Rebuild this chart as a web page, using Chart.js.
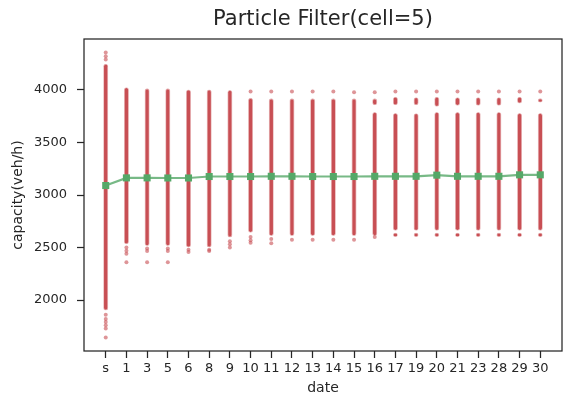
<!DOCTYPE html>
<html><head><meta charset="utf-8">
<script src="https://cdn.jsdelivr.net/npm/chart.js@4/dist/chart.umd.min.js"></script>
<style>html,body{margin:0;padding:0;background:#fff;}#wrap{width:567px;height:405px;}</style>
</head><body><div id="wrap"><canvas id="c" width="567" height="405"></canvas></div>
<script>
// ---- data ----
const categories = ['s','1','3','5','6','8','9','10','11','12','13','14','15','16','17','19','20','21','23','28','29','30'];
const meanCapacity = [3090,3163,3163,3162,3162,3176,3176,3176,3178,3178,3176,3176,3176,3178,3178,3178,3189,3178,3178,3178,3192,3192];
// dense particle band per date
const bandLow  = [1900,2530,2515,2515,2500,2500,2595,2640,2610,2610,2610,2610,2610,2610,2660,2660,2660,2660,2660,2660,2660,2660];
const bandHigh = [4250,4025,4015,4015,4005,4005,4000,3925,3920,3920,3920,3920,3920,3790,3780,3778,3790,3790,3790,3790,3780,3780];
// detached upper cluster (null = none)
const upperLow  = [null,null,null,null,null,null,null,null,null,null,null,null,null,3855,3855,3855,3840,3850,3850,3850,3870,3880];
const upperHigh = [null,null,null,null,null,null,null,null,null,null,null,null,null,3920,3935,3930,3935,3930,3930,3930,3935,3920];
// detached lower cluster (null = none)
const lowerLow  = [null,null,null,null,null,null,null,null,null,null,null,null,null,null,2600,2600,2600,2600,2600,2600,2600,2600];
const lowerHigh = [null,null,null,null,null,null,null,null,null,null,null,null,null,null,2640,2640,2640,2640,2640,2640,2640,2640];
// isolated particles: date index and capacity
const outlierDate  = [0,0,0,0,0,0,0,0,0, 1,1,1,1, 2,2,2, 3,3,3, 4,4, 5,5, 6,6,6, 7,7,7,7, 8,8,8, 9,9, 10,10, 11,11, 12,12, 13,13, 14,15,16,17,18,19,20,21];
const outlierValue = [4357,4320,4290,1860,1820,1790,1760,1730,1643, 2500,2470,2440,2360, 2490,2467,2360, 2490,2467,2360, 2480,2458, 2480,2467, 2560,2530,2500, 3985,2600,2570,2545, 3985,2580,2540, 3985,2575, 3985,2575, 3985,2575, 3978,2575, 3978,2600, 3985,3985,3985,3985,3985,3985,3985,3985];
const yTicks = [2000,2500,3000,3500,4000];

const RED = 'rgb(200,79,84)';
const RED_EDGE = 'rgba(200,79,84,0.45)';
const RED_DOT = 'rgba(200,79,84,0.6)';
const GREEN = '#55A868';
const TXT = '#262626';
const FONT = "'DejaVu Sans', sans-serif";

function bars(lo, hi) {
  const out = [];
  lo.forEach((l, i) => { if (l !== null && hi[i] !== null) out.push({x: i, y: [l, hi[i]]}); });
  return out;
}
const barStyle = {type: 'bar', grouped: false, barThickness: 5, maxBarThickness: 5, backgroundColor: RED,
  borderColor: RED_EDGE, borderWidth: 0.8, borderRadius: 2.5, borderSkipped: false, inflateAmount: 0, order: 1};

const framePlugin = {
  id: 'frame',
  afterDraw(chart) {
    const {ctx, chartArea: a} = chart;
    ctx.save();
    ctx.strokeStyle = '#262626';
    ctx.lineWidth = 1.25;
    ctx.strokeRect(a.left, a.top, a.right - a.left, a.bottom - a.top);
    ctx.restore();
  }
};

new Chart(document.getElementById('c'), {
  type: 'scatter',
  data: {
    datasets: [
      {type: 'line', data: meanCapacity.map((v, i) => ({x: i, y: v})), borderColor: 'rgba(85,168,104,0.8)',
        borderWidth: 2.2, pointStyle: 'rect', pointRadius: 5, pointBackgroundColor: GREEN,
        pointBorderWidth: 0, tension: 0, order: 0},
      Object.assign({data: bars(bandLow, bandHigh)}, barStyle),
      Object.assign({data: bars(upperLow, upperHigh)}, barStyle),
      Object.assign({data: bars(lowerLow, lowerHigh)}, barStyle),
      {type: 'scatter', data: outlierDate.map((d, i) => ({x: d, y: outlierValue[i]})),
        pointRadius: 2, pointBackgroundColor: RED_DOT, pointBorderWidth: 0, order: 2}
    ]
  },
  options: {
    responsive: false, animation: false, devicePixelRatio: 1,
    layout: {padding: {left: 0, right: 2, top: 0, bottom: 0}},
    plugins: {
      legend: {display: false}, tooltip: {enabled: false},
      title: {display: true, text: 'Particle Filter(cell=5)', fullSize: false, color: TXT,
        font: {family: FONT, size: 21, weight: 'normal'}, padding: {top: 7, bottom: 6.8}}
    },
    scales: {
      x: {type: 'linear', min: -1.05, max: 22.05, offset: false,
        afterBuildTicks: s => { s.ticks = categories.map((c, i) => ({value: i})); },
        afterFit: s => { s.height = 54; },
        ticks: {autoSkip: false, maxRotation: 0, padding: 3, color: TXT,
          font: {family: FONT, size: 13}, callback: v => categories[v]},
        grid: {offset: false, drawOnChartArea: false, drawTicks: true, tickLength: 7, tickWidth: 1.25, tickColor: '#262626'},
        border: {display: false},
        title: {display: true, text: 'date', color: TXT, font: {family: FONT, size: 14}, padding: {top: 0, bottom: 8}}
      },
      y: {type: 'linear', min: 1515, max: 4485,
        afterBuildTicks: s => { s.ticks = yTicks.map(v => ({value: v})); },
        afterFit: s => { s.width = 84; },
        ticks: {padding: 10, color: TXT, font: {family: FONT, size: 13}, callback: v => String(v)},
        grid: {drawOnChartArea: false, drawTicks: true, tickLength: 7, tickWidth: 1.25, tickColor: '#262626'},
        border: {display: false},
        title: {display: true, text: 'capacity(veh/h)', color: TXT, font: {family: FONT, size: 14}, padding: {top: 10, bottom: 0}}
      }
    }
  },
  plugins: [framePlugin]
});
</script></body></html>
